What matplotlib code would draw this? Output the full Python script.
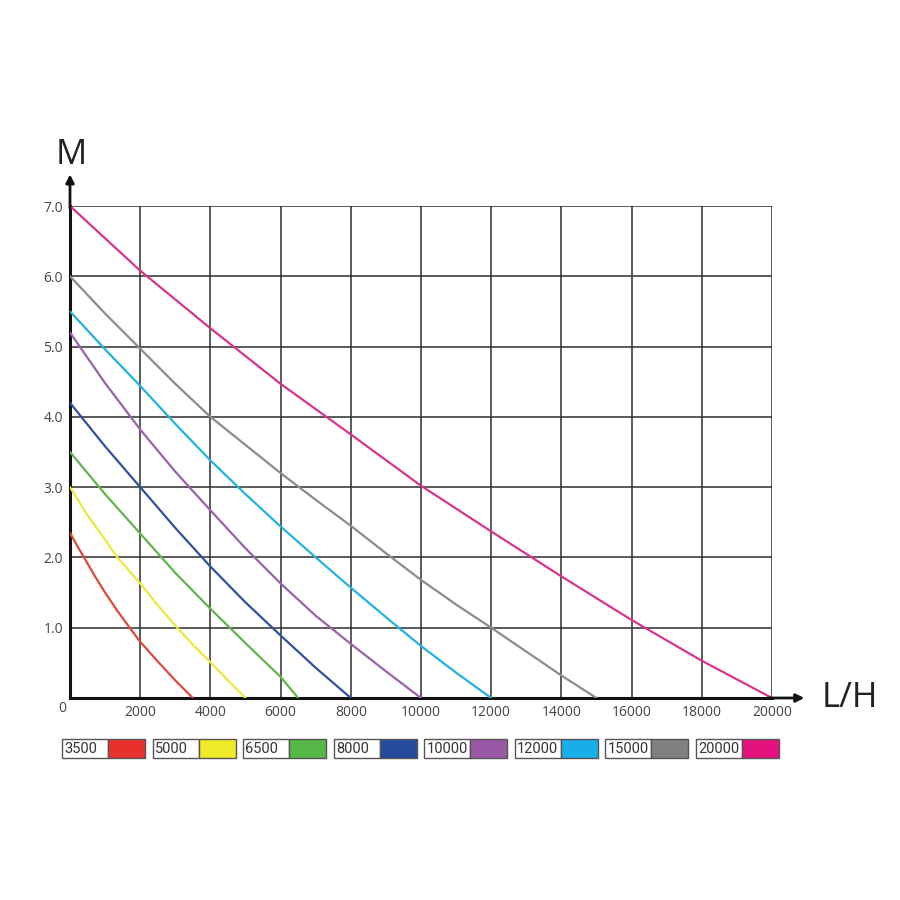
import matplotlib

matplotlib.use("Agg")
from matplotlib import pyplot as plt
from matplotlib.patches import Rectangle

# pump curves: flow (L/H) vs head (M)
models = ["3500", "5000", "6500", "8000", "10000", "12000", "15000", "20000"]
line_colors = ["#dc4a3c", "#ece83c", "#62b44e", "#31519c", "#9a62a8", "#22b2e0", "#8c8c8c", "#d8348c"]
box_colors = ["#e8302c", "#f0e92a", "#55b847", "#234c9c", "#9b58a6", "#18aeea", "#808083", "#e3127f"]

flow_3500 = [0, 200, 400, 700, 1000, 1350, 1700, 2000, 2500, 3000, 3500]
head_3500 = [2.35, 2.17, 2.0, 1.74, 1.5, 1.24, 1.0, 0.8, 0.52, 0.25, 0.0]
flow_5000 = [0, 500, 1000, 1350, 2000, 2500, 3000, 3500, 4000, 4500, 5000]
head_5000 = [3.0, 2.6, 2.25, 2.0, 1.63, 1.32, 1.03, 0.76, 0.51, 0.25, 0.0]
flow_6500 = [0, 1000, 2000, 3000, 4000, 5000, 6000, 6500]
head_6500 = [3.5, 2.9, 2.34, 1.78, 1.27, 0.78, 0.3, 0.0]
flow_8000 = [0, 1000, 2000, 3000, 4000, 5000, 6000, 7000, 8000]
head_8000 = [4.2, 3.58, 3.0, 2.42, 1.87, 1.36, 0.89, 0.43, 0.0]
flow_10000 = [0, 1000, 2000, 3000, 4000, 5000, 6000, 7000, 8000, 9000, 10000]
head_10000 = [5.2, 4.48, 3.82, 3.22, 2.67, 2.13, 1.63, 1.17, 0.77, 0.38, 0.0]
flow_12000 = [0, 1000, 2000, 3000, 4000, 5000, 6000, 7000, 8000, 9000, 10000, 11000, 12000]
head_12000 = [5.5, 4.96, 4.44, 3.9, 3.38, 2.9, 2.44, 2.0, 1.57, 1.15, 0.74, 0.36, 0.0]
flow_15000 = [0, 1000, 2000, 3000, 4000, 5000, 6000, 7000, 8000, 9000, 10000, 11000, 12000, 13000, 14000, 15000]
head_15000 = [6.0, 5.47, 4.97, 4.47, 4.0, 3.6, 3.2, 2.82, 2.45, 2.06, 1.68, 1.33, 1.0, 0.66, 0.32, 0.0]
flow_20000 = [0, 2000, 4000, 6000, 8000, 10000, 12000, 14000, 16000, 18000, 20000]
head_20000 = [7.0, 6.08, 5.26, 4.47, 3.75, 3.02, 2.37, 1.73, 1.11, 0.53, 0.0]

flows = [flow_3500, flow_5000, flow_6500, flow_8000, flow_10000, flow_12000, flow_15000, flow_20000]
heads = [head_3500, head_5000, head_6500, head_8000, head_10000, head_12000, head_15000, head_20000]

x_ticks = [2000, 4000, 6000, 8000, 10000, 12000, 14000, 16000, 18000, 20000]
y_ticks = [1.0, 2.0, 3.0, 4.0, 5.0, 6.0, 7.0]

plt.rcParams["font.family"] = ["Open Sans", "DejaVu Sans"]
LEGEND_FONT = ["Roboto", "DejaVu Sans"]

W, H = 900, 900
fig = plt.figure(figsize=(9, 9), dpi=100)
fig.patch.set_facecolor("white")


def fx(px):
    return px / W


def fy(py):
    return 1 - py / H


ax = fig.add_axes([fx(70), fy(698), fx(772) - fx(70), fy(206) - fy(698)])
ax.set_xlim(0, 20000)
ax.set_ylim(0, 7.0)

# grid
for xv in x_ticks:
    ax.axvline(xv, color="#2e2e2e", lw=1.1, zorder=1)
for yv in y_ticks:
    ax.axhline(yv, color="#2e2e2e", lw=1.1, zorder=1)

for f, h, c in zip(flows, heads, line_colors):
    ax.plot(f, h, color=c, lw=1.6, zorder=3, solid_capstyle="round", solid_joinstyle="round")

for s in ["top", "right"]:
    ax.spines[s].set_visible(False)
ax.spines["left"].set_linewidth(2.2)
ax.spines["bottom"].set_linewidth(2.2)
ax.spines["left"].set_color("#111111")
ax.spines["bottom"].set_color("#111111")
ax.tick_params(length=0, labelsize=10, colors="#444444", pad=5)
ax.set_xticks(x_ticks)
ax.set_xticklabels([str(v) for v in x_ticks])
ax.set_yticks(y_ticks)
ax.set_yticklabels(["%.1f" % v for v in y_ticks])
for lbl in ax.get_xticklabels() + ax.get_yticklabels():
    lbl.set_color("#444444")

# axis arrows
ax.annotate("", xy=(0, 1.07), xycoords="axes fraction", xytext=(0, 0.99),
            arrowprops=dict(arrowstyle="-|>", color="#111111", lw=2.0, mutation_scale=12),
            annotation_clip=False)
ax.annotate("", xy=(1.05, 0), xycoords="axes fraction", xytext=(0.99, 0),
            arrowprops=dict(arrowstyle="-|>", color="#111111", lw=2.0, mutation_scale=12),
            annotation_clip=False)

fig.text(fx(62), fy(709), "0", fontsize=10, color="#444444", ha="center", va="center")
fig.text(fx(71), fy(155), "M", fontsize=25, color="#222222", ha="center", va="center")
fig.text(fx(850), fy(698), "L/H", fontsize=25, color="#222222", ha="center", va="center")

# legend boxes
x0, step = 62, 90.5
for i, (m, c) in enumerate(zip(models, box_colors)):
    left = x0 + i * step
    wbox = Rectangle((fx(left), fy(758)), fx(46), fy(739) - fy(758), transform=fig.transFigure,
                     facecolor="white", edgecolor="#555555", lw=1.0)
    cbox = Rectangle((fx(left + 46), fy(758)), fx(37), fy(739) - fy(758), transform=fig.transFigure,
                     facecolor=c, edgecolor="#555555", lw=1.0)
    fig.patches.extend([wbox, cbox])
    fig.text(fx(left + 2.5), fy(749), m, fontsize=10.5, color="#333333",
             ha="left", va="center", family=LEGEND_FONT)

fig.savefig("out.png", dpi=100, facecolor="white")
